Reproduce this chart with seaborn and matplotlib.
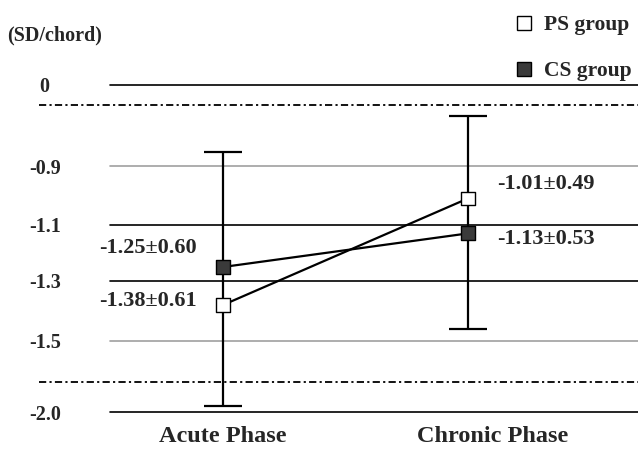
import numpy as np
import pandas as pd
import matplotlib
matplotlib.use('Agg')
import matplotlib.pyplot as plt
from matplotlib.lines import Line2D
from matplotlib.ticker import NullLocator
import seaborn as sns

# values
phases = ['Acute Phase', 'Chronic Phase']
groups = ['PS group', 'CS group']
ps_mean = [-1.38, -1.01]
ps_sd = [0.61, 0.49]
cs_mean = [-1.25, -1.13]
cs_sd = [0.60, 0.53]
bar_high = [-0.74, -0.34]   # top of the error bar per phase
bar_low = [-1.96, -1.46]    # bottom of the error bar per phase
ref_lines = [-0.22, -1.79]  # dash-dot lines
tick_vals = [0.0, -0.9, -1.1, -1.3, -1.5, -2.0]
tick_labels = ['0', '-0.9', '-1.1', '-1.3', '-1.5', '-2.0']

# the y axis is not linear: each tick gets its own spacing
scale_vals = [-2.5, -2.0, -1.5, -1.3, -1.1, -0.9, 0.0, 0.5]
scale_pos = [-71, 0, 71, 131, 187, 246, 327, 372]


def fwd(y):
    return np.interp(y, scale_vals, scale_pos)


def inv(p):
    return np.interp(p, scale_pos, scale_vals)


df = pd.DataFrame({
    'phase': phases * 2,
    'x': [0, 1, 0, 1],
    'group': [groups[0]] * 2 + [groups[1]] * 2,
    'value': ps_mean + cs_mean,
    'sd': ps_sd + cs_sd,
})

sns.set_theme(style='white')
plt.rcParams['font.family'] = ['Liberation Serif', 'DejaVu Serif']
plt.rcParams['font.weight'] = 'bold'

fig = plt.figure(figsize=(6.38, 4.51), dpi=100)
ax = fig.add_axes([110 / 638, 39 / 451, 528 / 638, 327 / 451])
ax.set_yscale('function', functions=(fwd, inv))
ax.set_ylim(-2.0, 0.0)
ax.set_xlim(-0.461, 1.694)

grid_cols = ['black', '#a0a0a0', 'black', 'black', '#a0a0a0', 'black']
for v, c in zip(tick_vals, grid_cols):
    ax.axhline(v, color=c, lw=1.2, clip_on=False, zorder=1)
for v in ref_lines:
    ax.axhline(v, xmin=-71 / 528, xmax=1, color='black', lw=1.3,
               ls=(0, (4, 1.8, 1.2, 1.8)), clip_on=False, zorder=1)

mid = [(h + l) / 2 for h, l in zip(bar_high, bar_low)]
half = [(h - l) / 2 for h, l in zip(bar_high, bar_low)]
ax.errorbar([0, 1], mid, yerr=half, fmt='none', ecolor='black',
            elinewidth=1.6, capsize=14, capthick=1.6, zorder=3)

sns.lineplot(data=df, x='x', y='value', hue='group',
             palette={groups[0]: 'black', groups[1]: 'black'},
             lw=1.6, legend=False, ax=ax, zorder=4)
face = {groups[0]: 'white', groups[1]: '#3a3a3a'}
sns.scatterplot(data=df, x='x', y='value', hue='group', palette=face,
                marker='s', s=100, edgecolor='black', linewidth=1,
                legend=False, ax=ax, zorder=5)

offsets = [(-75, 4), (78, 14), (-75, 19), (78, -6)]
for (i, row), off in zip(df.iterrows(), offsets):
    ax.annotate(f"{row['value']:.2f}\u00b1{row['sd']:.2f}",
                xy=(row['x'], row['value']), xytext=off,
                textcoords='offset pixels', ha='center', va='center',
                fontsize=16, fontweight='bold')

ax.set_yticks(tick_vals)
ax.set_yticklabels(tick_labels)
ax.yaxis.set_minor_locator(NullLocator())
ax.tick_params(axis='y', length=0, pad=47, labelsize=14.5)
for t in ax.get_yticklabels():
    t.set_ha('center')
ax.set_xticks([0, 1.1])
ax.set_xticklabels(phases)
ax.tick_params(axis='x', length=0, pad=10, labelsize=17.5)
ax.set_xlabel('')
ax.set_ylabel('')
for s in ax.spines.values():
    s.set_visible(False)

fig.text(7 / 638, 1 - 35 / 451, '(SD/chord)', ha='left', va='center',
         fontsize=14.5, fontweight='bold')

handles = [Line2D([], [], marker='s', ls='none', mfc=face[g], mec='black',
                  ms=10.5, mew=1) for g in groups]
fig.legend(handles, groups, loc='upper left',
           bbox_to_anchor=(494 / 638, 1 + 4 / 451), frameon=False,
           fontsize=15.5, labelspacing=1.2, handletextpad=0.4,
           handlelength=1.0)

fig.savefig('out.png', dpi=100)
